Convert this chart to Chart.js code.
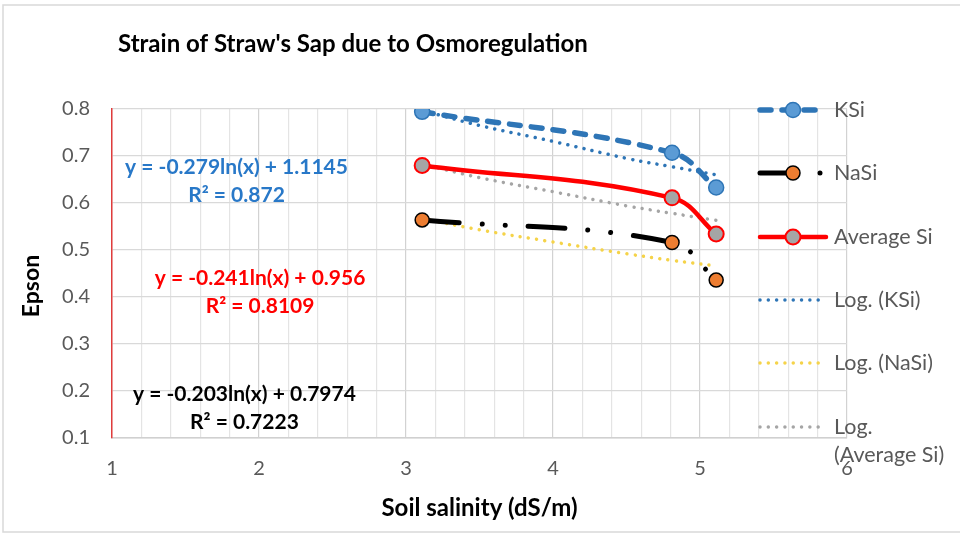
<!DOCTYPE html>
<html>
<head>
<meta charset="utf-8">
<script src="https://cdn.jsdelivr.net/npm/chart.js@4.4.0/dist/chart.umd.min.js"></script>
<style>
html,body{margin:0;padding:0;background:#ffffff;}
#wrap{width:960px;height:535px;position:relative;}
</style>
</head>
<body>
<div id="wrap"><canvas id="c" width="960" height="535"></canvas></div>
<script>
// ---------- data ----------
const chartTitle = "Strain of Straw's Sap due to Osmoregulation";
const xAxisTitle = 'Soil salinity (dS/m)';
const yAxisTitle = 'Epson';
const seriesNames = ['KSi', 'NaSi', 'Average Si', 'Log. (KSi)', 'Log. (NaSi)', 'Log. (Average Si)'];
const salinity = [3.11, 4.81, 5.11];
const kSi = [0.794, 0.707, 0.633];
const naSi = [0.564, 0.516, 0.436];
const averageSi = [0.680, 0.611, 0.534];
const trendSalinity = [3.11, 3.5, 4.0, 4.5, 4.81, 5.11];
const logKSi = [0.797, 0.765, 0.731, 0.695, 0.677, 0.660];
const logNaSi = [0.567, 0.543, 0.517, 0.492, 0.478, 0.466];
const logAverageSi = [0.683, 0.654, 0.624, 0.594, 0.578, 0.563];
const xTickLabels = ['1', '2', '3', '4', '5', '6'];
const yTickLabels = ['0.1', '0.2', '0.3', '0.4', '0.5', '0.6', '0.7', '0.8'];
const equationTexts = [
  ['y = -0.279ln(x) + 1.1145', 'R\u00B2 = 0.872'],
  ['y = -0.241ln(x) + 0.956', 'R\u00B2 = 0.8109'],
  ['y = -0.203ln(x) + 0.7974', 'R\u00B2 = 0.7223']
];

// ---------- styling ----------
const FONT = 'Lato, "Open Sans", sans-serif';
const BLUE = '#2E75B6';
const equationStyle = [
  { color: '#2878C8', at: [1.847, 0.677] },
  { color: '#FF0000', at: [2.007, 0.440] },
  { color: '#000000', at: [1.901, 0.194] }
];

function pts(xs, ys) { return xs.map((x, i) => ({ x: x, y: ys[i] })); }
function isInt(v) { return Math.abs(v - Math.round(v)) < 1e-6; }

const datasets = [
  { label: seriesNames[0], data: pts(salinity, kSi), showLine: true, tension: 0.4,
    borderColor: BLUE, borderWidth: 5.5, borderDash: [11, 11], borderCapStyle: 'round',
    pointRadius: 7.5, pointBackgroundColor: '#5B9BD5', pointBorderColor: BLUE, pointBorderWidth: 1.5, order: 1 },
  { label: seriesNames[1], data: pts(salinity, naSi), showLine: true, tension: 0.4,
    borderColor: '#000000', borderWidth: 5, borderDash: [37, 23, 0.01, 23, 0.01, 23], borderCapStyle: 'round',
    pointRadius: 7, pointBackgroundColor: '#ED7D31', pointBorderColor: '#000000', pointBorderWidth: 1.5, order: 1 },
  { label: seriesNames[2], data: pts(salinity, averageSi), showLine: true, tension: 0.4,
    borderColor: '#FF0000', borderWidth: 4.5, borderCapStyle: 'round',
    pointRadius: 7.5, pointBackgroundColor: '#A5A5A5', pointBorderColor: '#FF0000', pointBorderWidth: 2, order: 1 },
  { label: seriesNames[3], data: pts(trendSalinity, logKSi), showLine: true, tension: 0.4,
    borderColor: BLUE, borderWidth: 3.5, borderDash: [0.01, 8.3], borderCapStyle: 'round',
    pointRadius: 0, order: 2 },
  { label: seriesNames[4], data: pts(trendSalinity, logNaSi), showLine: true, tension: 0.4,
    borderColor: '#F5D349', borderWidth: 3.5, borderDash: [0.01, 8.3], borderCapStyle: 'round',
    pointRadius: 0, order: 2 },
  { label: seriesNames[5], data: pts(trendSalinity, logAverageSi), showLine: true, tension: 0.4,
    borderColor: '#A5A5A5', borderWidth: 3.5, borderDash: [0.01, 8.3], borderCapStyle: 'round',
    pointRadius: 0, order: 2 }
];

// ---------- custom decorations: title, legend, equations, frame ----------
const decorations = {
  id: 'decorations',
  afterDraw(chart) {
    const ctx = chart.ctx;
    const xs = chart.scales.x, ys = chart.scales.y;
    ctx.save();
    // frame
    ctx.strokeStyle = '#D9D9D9';
    ctx.lineWidth = 1.5;
    ctx.beginPath();
    ctx.moveTo(960, 5); ctx.lineTo(3, 5); ctx.lineTo(3, 532); ctx.lineTo(960, 532);
    ctx.stroke();

    // title
    ctx.fillStyle = '#000000';
    ctx.font = 'bold 24px ' + FONT;
    ctx.textAlign = 'left';
    ctx.textBaseline = 'middle';
    ctx.fillText(chartTitle, 118, 44);

    // y axis title
    ctx.save();
    ctx.translate(32, 286);
    ctx.rotate(-Math.PI / 2);
    ctx.font = 'bold 23px ' + FONT;
    ctx.textAlign = 'center';
    ctx.fillText(yAxisTitle, 0, 0);
    ctx.restore();

    // equations
    ctx.font = 'bold 21px ' + FONT;
    ctx.textAlign = 'center';
    equationTexts.forEach((lines, i) => {
      const st = equationStyle[i];
      const cx = xs.getPixelForValue(st.at[0]);
      const cy = ys.getPixelForValue(st.at[1]);
      ctx.fillStyle = st.color;
      lines.forEach((t, j) => ctx.fillText(t, cx, cy + j * 28));
    });

    // legend
    const lx0 = 760, lx1 = 826, lmid = 793, tx = 834, maxW = 120;
    const rows = [110, 173, 237, 300, 363, 427];
    ctx.font = '21.5px ' + FONT;
    chart.data.datasets.forEach((ds, i) => {
      const y = rows[i];
      ctx.save();
      ctx.strokeStyle = ds.borderColor;
      ctx.lineWidth = ds.borderWidth;
      ctx.lineCap = ds.borderCapStyle || 'butt';
      ctx.setLineDash(ds.borderDash || []);
      ctx.beginPath(); ctx.moveTo(lx0, y); ctx.lineTo(lx1, y); ctx.stroke();
      ctx.setLineDash([]);
      if (ds.pointRadius > 0) {
        ctx.beginPath();
        ctx.arc(lmid, y, ds.pointRadius, 0, Math.PI * 2);
        ctx.fillStyle = ds.pointBackgroundColor; ctx.fill();
        ctx.lineWidth = ds.pointBorderWidth; ctx.strokeStyle = ds.pointBorderColor; ctx.stroke();
      }
      ctx.restore();
      ctx.fillStyle = '#595959';
      ctx.textAlign = 'left';
      ctx.textBaseline = 'middle';
      let lines = [ds.label];
      if (ctx.measureText(ds.label).width > maxW) {
        const k = ds.label.indexOf(' ');
        lines = [ds.label.slice(0, k), ds.label.slice(k + 1)];
      }
      lines.forEach((t, j) => ctx.fillText(t, tx, y + j * 28));
    });
    ctx.restore();
  }
};

new Chart(document.getElementById('c'), {
  type: 'scatter',
  data: { datasets: datasets },
  plugins: [decorations],
  options: {
    responsive: false,
    animation: false,
    events: [],
    layout: { padding: { left: 0, right: 113, top: 109, bottom: 0 } },
    plugins: { legend: { display: false }, tooltip: { enabled: false }, title: { display: false } },
    scales: {
      x: {
        type: 'linear', min: 1, max: 6,
        afterFit(scale) { scale.height = 97; },
        ticks: {
          stepSize: 0.2, autoSkip: false, maxRotation: 0, padding: 19,
          color: '#595959', font: { family: FONT, size: 20 },
          callback: (v) => isInt(v) ? xTickLabels[Math.round(v) - 1] : ''
        },
        grid: {
          drawTicks: false, lineWidth: 1.2,
          color: (c) => (c.tick && isInt(c.tick.value)) ? '#D2D2D2' : '#E4E4E4'
        },
        border: { color: '#D0D0D0', width: 1.5 },
        title: { display: true, text: xAxisTitle, color: '#000000',
          font: { family: FONT, size: 24, weight: 'bold' }, padding: { top: 0, bottom: 12 } }
      },
      y: {
        type: 'linear', min: 0.1, max: 0.8,
        afterFit(scale) { scale.width = 112; },
        ticks: {
          stepSize: 0.1, padding: 22, color: '#595959', font: { family: FONT, size: 20 },
          callback: (v, i) => yTickLabels[i]
        },
        grid: { drawTicks: false, color: '#D9D9D9', lineWidth: 1.2 },
        border: { color: '#E03C3C', width: 1.5 },
        title: { display: false }
      }
    }
  }
});
</script>
</body>
</html>
